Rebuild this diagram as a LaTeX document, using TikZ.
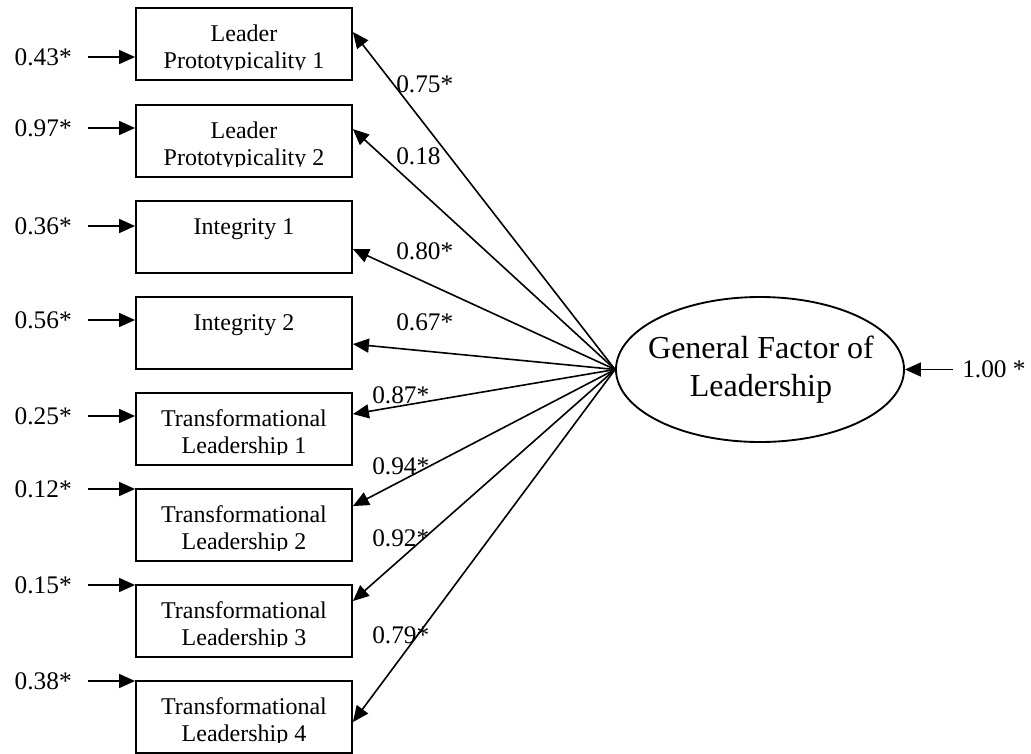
\documentclass[tikz,border=0pt]{standalone}
\usepackage{fontspec}
\setmainfont{Liberation Serif}
\usetikzlibrary{arrows.meta,calc,shapes.geometric}
\tikzset{
  obs/.style={draw, line width=1.4pt, minimum width=162pt, minimum height=54pt, inner sep=0pt},
  boxtext/.style={font=\fontsize{18}{21}\selectfont, inner sep=0pt, anchor=base},
  val/.style={font=\fontsize{19}{22}\selectfont, inner sep=0pt},
  latent/.style={draw, ellipse, line width=1.4pt, minimum width=216pt, minimum height=108.75pt,
    inner sep=0pt},
  latenttext/.style={align=center, inner sep=0pt, font=\fontsize{24}{28.5}\selectfont},
  link/.style={line width=1.2pt, -{Triangle[length=12pt,width=10.5pt]}},
}
% observed indicator: name, top edge, first line, second line (text clipped at the lower margin)
\newcommand{\obsbox}[4]{%
  \node[obs] (#1) at (244,#2+36) {};
  \begin{scope}
    \clip (136,#2) rectangle (353,#2+61);
    \node[boxtext] (#1-a) at (244,#2+33) {#3};
    \node[boxtext] (#1-b) at (244,#2+60) {#4};
  \end{scope}}
\begin{document}
\begin{tikzpicture}[x=0.75pt, y=-0.75pt]
\useasboundingbox (0,0) rectangle (1031,753);

% indicators
\obsbox{b1}{8}{Leader}{Prototypicality 1}
\obsbox{b2}{105}{Leader}{Prototypicality 2}
\obsbox{b3}{201}{Integrity 1}{}
\obsbox{b4}{297}{Integrity 2}{}
\obsbox{b5}{393}{Transformational}{Leadership 1}
\obsbox{b6}{489}{Transformational}{Leadership 2}
\obsbox{b7}{585}{Transformational}{Leadership 3}
\obsbox{b8}{681}{Transformational}{Leadership 4}

% latent factor
\node[latent] (g) at (760,369.5) {};
\node[latenttext] (g-t) at (761,370) {General Factor of\\Leadership};

% error variances
\node[val, anchor=east] (e1) at (72,57) {0.43*};
\node[val, anchor=east] (e2) at (72,128) {0.97*};
\node[val, anchor=east] (e3) at (72,226) {0.36*};
\node[val, anchor=east] (e4) at (72,320) {0.56*};
\node[val, anchor=east] (e5) at (72,416) {0.25*};
\node[val, anchor=east] (e6) at (72,489) {0.12*};
\node[val, anchor=east] (e7) at (72,585) {0.15*};
\node[val, anchor=east] (e8) at (72,681) {0.38*};
\foreach \i in {1,...,8}{
  \draw[link] ([xshift=12pt]e\i.east) -- (e\i.east -| b\i.west);
}

% factor variance
\node[val, anchor=west] (u) at (962,369.5) {1.00 *};
\draw[link] ([xshift=-7pt]u.west) -- (g.east);

% loadings
\draw[link] (g.west) -- ($(b1.north east)+(0,25)$);
\draw[link] (g.west) -- ($(b2.north east)+(0,25)$);
\draw[link] (g.west) -- ($(b3.north east)+(0,49)$);
\draw[link] (g.west) -- ($(b4.north east)+(0,48)$);
\draw[link] (g.west) -- ($(b5.north east)+(0,22)$);
\draw[link] (g.west) -- ($(b6.north east)+(0,18)$);
\draw[link] (g.west) -- ($(b7.north east)+(0,17)$);
\draw[link] (g.west) -- ($(b8.north east)+(0,42)$);

\node[val, anchor=base west] (l1) at (396,92) {0.75*};
\node[val, anchor=base west] (l2) at (396,164) {0.18};
\node[val, anchor=base west] (l3) at (396,259) {0.80*};
\node[val, anchor=base west] (l4) at (396,330) {0.67*};
\node[val, anchor=base west] (l5) at (372,403) {0.87*};
\node[val, anchor=base west] (l6) at (372,474) {0.94*};
\node[val, anchor=base west] (l7) at (372,546) {0.92*};
\node[val, anchor=base west] (l8) at (372,643) {0.79*};
\end{tikzpicture}
\end{document}
